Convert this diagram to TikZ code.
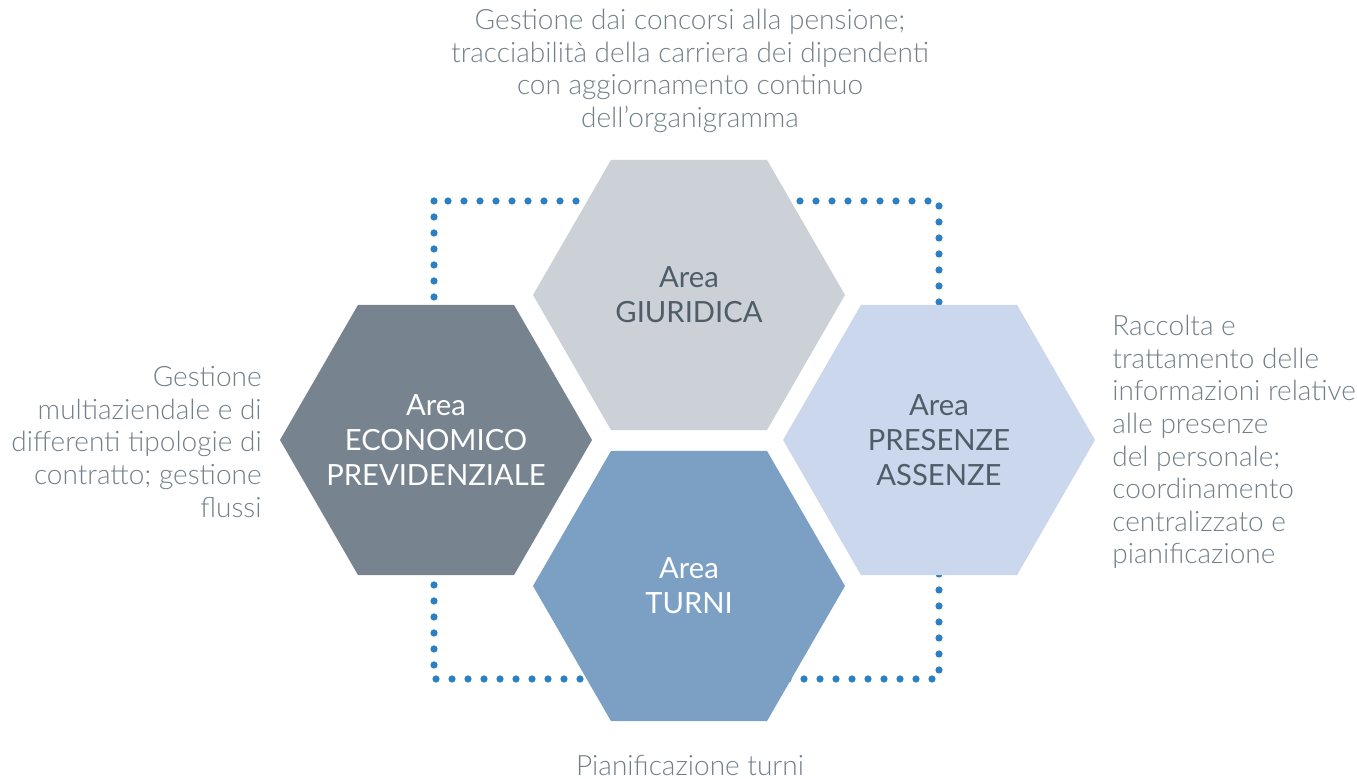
\documentclass[tikz,border=0pt]{standalone}
\usepackage{fontspec}
\setmainfont{Lato}
\newfontfamily\lightfont{Lato Light}
\usetikzlibrary{shapes.geometric}
\definecolor{giurgray}{HTML}{CBD1D6}
\definecolor{econgray}{HTML}{77848F}
\definecolor{presblue}{HTML}{CAD7EC}
\definecolor{turnblue}{HTML}{7BA0C4}
\definecolor{dotblue}{HTML}{2A80C2}
\definecolor{darktext}{HTML}{4F5D69}
\definecolor{desctext}{HTML}{727F89}

\begin{document}
\begin{tikzpicture}[
  x=0.5pt, y=-0.5pt,
  hexa/.style={regular polygon,regular polygon sides=6,minimum size=156pt,inner sep=-25pt,align=center,font=\fontsize{14.6}{17.5}\selectfont},
  desc/.style={font=\lightfont\fontsize{14}{16.3}\selectfont,text=desctext,inner sep=0pt},
  dotline/.style={draw=dotblue,line width=3.6pt,line cap=round,dash pattern=on 0pt off 8pt}
]
\useasboundingbox (0,0) rectangle (1357,779);

% dotted frame behind the hexagons
\draw[dotline] (434,201) rectangle (939,679);

\node[hexa,fill=giurgray,text=darktext] (giur) at (689,295) {Area\\GIURIDICA};
\node[hexa,fill=econgray,text=white] (econ) at (436,440) {Area\\ECONOMICO\\PREVIDENZIALE};
\node[hexa,fill=presblue,text=darktext] (pres) at (939,440) {Area\\PRESENZE\\ASSENZE};
\node[hexa,fill=turnblue,text=white] (turn) at (689,586) {Area\\TURNI};

\node[desc,align=center] (giurdesc) at (690,71) {Gestione dai concorsi alla pensione;\\tracciabilità della carriera dei dipendenti\\con aggiornamento continuo\\dell’organigramma};
\node[desc,align=right,anchor=east] (econdesc) at (262,442) {Gestione\\multiaziendale e di\\differenti tipologie di\\contratto; gestione\\flussi};
\node[desc,align=left,anchor=west] (presdesc) at (1112,442) {Raccolta e\\trattamento delle\\informazioni relative\\alle presenze\\del personale;\\coordinamento\\centralizzato e\\pianificazione};
\node[desc] (turndesc) at (690,765) {Pianificazione turni};
\end{tikzpicture}
\end{document}
